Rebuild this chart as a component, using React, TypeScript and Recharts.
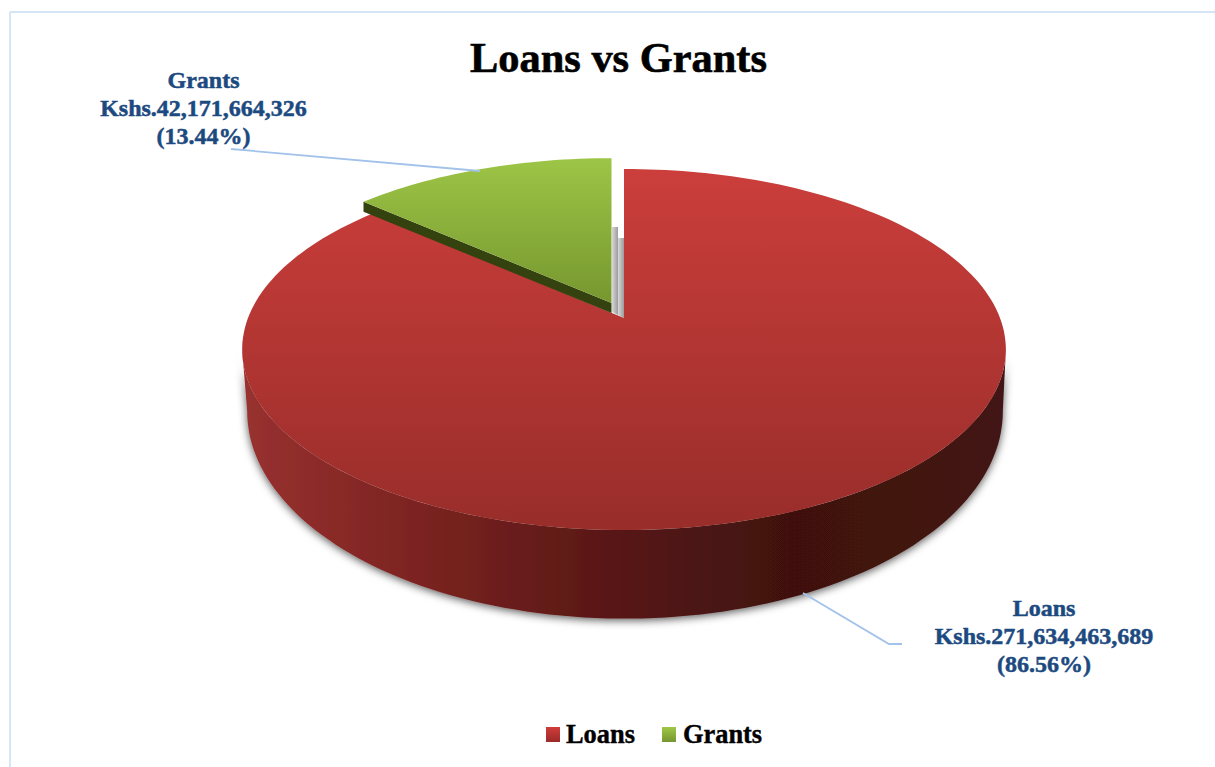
import React from "react";
import { PieChart, Pie, Legend } from "recharts";

const categories = ["Loans", "Grants"];
const amounts = [271634463689, 42171664326];
const amountLabels = ["Kshs.271,634,463,689", "Kshs.42,171,664,326"];
const percentLabels = ["(86.56%)", "(13.44%)"];
const legendFills = ["url(#loansLegend)", "url(#grantsLegend)"];

const pieData = categories.map((name, i) => ({
  name,
  value: amounts[i],
  fill: legendFills[i],
}));

const WIDTH = 1215;
const HEIGHT = 767;
const SERIF = '"Liberation Serif", "Times New Roman", serif';
const LABEL_BLUE = "#1c4a80";
const LINE_BLUE = "#a3c2ea";

// perspective of the tilted disc: near edge is bigger than far edge
const TILT = 0.1745;
const X_SCALE = 376 / 175;

type Proj = { cx: number; cy: number; a: number; b: number };

const project = (angle: number, p: Proj) => {
  const rad = (angle * Math.PI) / 180;
  const X = Math.cos(rad);
  const Y = -Math.sin(rad);
  const w = 1 - TILT * Y;
  return [p.cx + (p.a * X) / w, p.cy + (p.b * Y) / w];
};

const arcPoints = (from: number, to: number, p: Proj) => {
  const steps = Math.max(2, Math.ceil(Math.abs(to - from) / 1.5));
  const pts: number[][] = [];
  for (let i = 0; i <= steps; i++) {
    pts.push(project(from + ((to - from) * i) / steps, p));
  }
  return pts;
};

const toPath = (pts: number[][]) =>
  "M" + pts.map((q) => q[0].toFixed(1) + " " + q[1].toFixed(1)).join("L") + "Z";

const PieSlice = (props: any) => {
  const { cx, cy, outerRadius: r, startAngle, endAngle, name } = props;
  const sweep = Math.min(startAngle, endAngle);
  const top = Math.max(startAngle, endAngle);

  if (name === "Grants") {
    // pulled out of the pie, towards the back left
    const p = { cx: cx - 12.5, cy: cy - 15, a: r * 2.115, b: r * 0.972 };
    const rim = arcPoints(top, sweep, p);
    const corner = rim[0];
    const apex = [p.cx, p.cy];
    const cut = [corner, apex, [apex[0], apex[1] + 10], [corner[0], corner[1] + 10]];
    return (
      <g>
        <path d={toPath(cut)} fill="#34420f" />
        <path d={toPath([apex, ...rim])} fill="url(#grantsTop)" />
      </g>
    );
  }

  const p = { cx, cy, a: r * X_SCALE, b: r };
  const low = { cx: cx + 1, cy: cy + 57, a: r * 2.126, b: r * 1.149 };
  const edge = (Math.asin(TILT) * 180) / Math.PI;
  const wall = [
    ...arcPoints(-edge, -180 + edge, p),
    ...arcPoints(-180 + edge, -edge, low),
  ];
  const x = cx;
  const y = cy;
  return (
    <g>
      <path d={toPath(wall)} fill="url(#loansWall)" filter="url(#pieShadow)" />
      <path
        d={toPath([[x - 12, y - 91], [x - 6, y - 91], [x - 6, y - 3], [x - 12, y - 6]])}
        fill="url(#stripe)"
      />
      <path
        d={toPath([[x - 6, y - 80], [x, y - 80], [x, y], [x - 6, y - 3]])}
        fill="url(#stripe)"
      />
      <path d={toPath([[cx, cy], ...arcPoints(top, sweep, p)])} fill="url(#loansTop)" />
    </g>
  );
};

const labelSpots = [
  { x: 1044, y: 616, line: "803,593 889,644 902,644" },
  { x: 203.5, y: 88, line: "231,149 480,171" },
];

const SliceLabel = (props: any) => {
  const i = props.index;
  const spot = labelSpots[i];
  return (
    <g>
      <polyline points={spot.line} fill="none" stroke={LINE_BLUE} strokeWidth={1.8} />
      <text
        x={spot.x}
        y={spot.y}
        textAnchor="middle"
        fontFamily={SERIF}
        fontWeight="bold"
        fontSize={24}
        fill={LABEL_BLUE}
        stroke={LABEL_BLUE}
        strokeWidth={0.5}
      >
        <tspan x={spot.x}>{categories[i]}</tspan>
        <tspan x={spot.x} dy={28}>{amountLabels[i]}</tspan>
        <tspan x={spot.x} dy={27.5}>{percentLabels[i]}</tspan>
      </text>
    </g>
  );
};

const LegendRow = ({ payload }: any) => (
  <div style={{ display: "flex", fontFamily: SERIF, fontWeight: "bold", fontSize: 26.4, lineHeight: "30px", color: "#000", WebkitTextStroke: "0.4px #000" }}>
    {(payload || []).map((item: any, i: number) => (
      <div key={item.value} style={{ display: "flex", alignItems: "center", marginRight: i === 0 ? 27 : 0 }}>
        <svg width={14} height={15} style={{ marginRight: 6 + i }}>
          <rect width={14} height={15} fill={legendFills[i]} />
        </svg>
        <span>{item.value}</span>
      </div>
    ))}
  </div>
);

export default function App() {
  return (
    <div style={{ position: "absolute", left: 0, top: 0, width: WIDTH, height: HEIGHT, background: "#fff" }}>
      <PieChart width={WIDTH} height={HEIGHT} margin={{ top: 0, right: 0, bottom: 0, left: 0 }}>
        <defs>
          <linearGradient id="loansTop" gradientUnits="userSpaceOnUse" x1="0" y1="169" x2="0" y2="530">
            <stop offset="0" stopColor="#cb3e3b" />
            <stop offset="1" stopColor="#982d2a" />
          </linearGradient>
          <linearGradient id="grantsTop" gradientUnits="userSpaceOnUse" x1="0" y1="158" x2="0" y2="303">
            <stop offset="0" stopColor="#9dc546" />
            <stop offset="1" stopColor="#76972f" />
          </linearGradient>
          <linearGradient id="loansWall" gradientUnits="userSpaceOnUse" x1="243" y1="0" x2="1006" y2="0">
            <stop offset="0" stopColor="#983130" />
            <stop offset="0.22" stopColor="#7d2421" />
            <stop offset="0.47" stopColor="#5a1816" />
            <stop offset="0.72" stopColor="#3f1110" />
            <stop offset="1" stopColor="#431412" />
          </linearGradient>
          <linearGradient id="stripe" x1="0" y1="0" x2="1" y2="0">
            <stop offset="0" stopColor="#d8d8d8" />
            <stop offset="1" stopColor="#9c9c9c" />
          </linearGradient>
          <linearGradient id="loansLegend" x1="0" y1="0" x2="0" y2="1">
            <stop offset="0" stopColor="#d03c3a" />
            <stop offset="1" stopColor="#9c2a28" />
          </linearGradient>
          <linearGradient id="grantsLegend" x1="0" y1="0" x2="0" y2="1">
            <stop offset="0" stopColor="#9fc846" />
            <stop offset="1" stopColor="#76962f" />
          </linearGradient>
          <filter id="pieShadow" x="-5%" y="-5%" width="110%" height="115%">
            <feDropShadow dx="0" dy="2" stdDeviation="4" floodColor="#000" floodOpacity="0.65" />
          </filter>
        </defs>
        <line x1={10} y1={12} x2={WIDTH} y2={12} stroke="#d6e5f6" strokeWidth={2} />
        <line x1={10} y1={12} x2={10} y2={HEIGHT} stroke="#d6e5f6" strokeWidth={2} />
        <text x={618.5} y={72} textAnchor="middle" fontFamily={SERIF} fontWeight="bold" fontSize={42.4} fill="#000" stroke="#000" strokeWidth={0.6}>
          Loans vs Grants
        </text>
        <Pie
          data={pieData}
          dataKey="value"
          nameKey="name"
          cx={624}
          cy={318}
          outerRadius={175}
          startAngle={90}
          endAngle={-270}
          stroke="none"
          shape={PieSlice}
          label={SliceLabel}
          labelLine={false}
          isAnimationActive={false}
        />
        <Legend
          content={LegendRow}
          itemSorter={null}
          wrapperStyle={{ position: "absolute", left: 546, top: 719, width: "auto" }}
        />
      </PieChart>
    </div>
  );
}
